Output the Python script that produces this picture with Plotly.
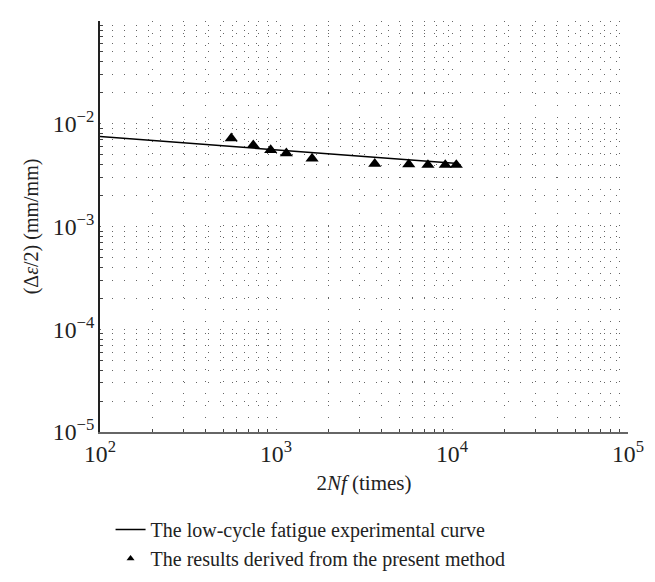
import plotly.graph_objects as go

# Low-cycle fatigue experimental curve (strain amplitude vs reversals)
curve_x = [100, 10800]
curve_y = [0.0075, 0.0041]

# Results derived from the present method
pts_x = [557, 743, 933, 1145, 1603, 3640, 5680, 7300, 9160, 10580]
pts_y = [0.00722, 0.00618, 0.00555, 0.00516, 0.00458, 0.00408, 0.00403, 0.00397, 0.00397, 0.00397]

curve_name = "The low-cycle fatigue experimental curve"
pts_name = "The results derived from the present method"

FONT = "Liberation Serif, DejaVu Serif, serif"

fig = go.Figure()
fig.add_trace(go.Scatter(x=curve_x, y=curve_y, mode="lines", name=curve_name,
                         line=dict(color="black", width=1.5)))
fig.add_trace(go.Scatter(x=pts_x, y=pts_y, mode="markers", name=pts_name, showlegend=False,
                         marker=dict(symbol="triangle-up", size=11.5, color="black")))
# legend-only entry with a small marker
fig.add_trace(go.Scatter(x=[None], y=[None], mode="markers", name=pts_name,
                         marker=dict(symbol="triangle-up", size=7, color="black")))

grid_kw = dict(showgrid=True, gridcolor="#666", gridwidth=1, griddash="1px,11px")
minor_kw = dict(dtick="D1", showgrid=True, gridcolor="#666", gridwidth=1, griddash="1px,11px",
                ticks="inside", ticklen=3, tickcolor="#444")

fig.update_xaxes(type="log", range=[2, 5], dtick=1, exponentformat="power",
                 showline=True, linecolor="#666", linewidth=2, zeroline=False,
                 ticks="", tickfont=dict(family=FONT, size=19, color="#222"),
                 title=dict(text="2<i>Nf</i> (times)", font=dict(family=FONT, size=21, color="#222"), standoff=10),
                 minor=minor_kw, **grid_kw)
fig.update_yaxes(type="log", range=[-5, -1], dtick=1, exponentformat="power",
                 showline=True, linecolor="#222", linewidth=2, zeroline=False,
                 ticks="", tickfont=dict(family=FONT, size=19, color="#222"),
                 title=dict(text="(Δ<i>ε</i>/2) (mm/mm)", font=dict(family=FONT, size=20, color="#222"), standoff=9),
                 minor=minor_kw, **grid_kw)

fig.update_layout(
    width=655, height=582,
    margin=dict(l=92, r=35, t=13, b=138),
    plot_bgcolor="white", paper_bgcolor="white",
    font=dict(family=FONT, color="#222"),
    legend=dict(x=0.02, y=-0.19, xanchor="left", yanchor="top", orientation="v",
                font=dict(family=FONT, size=20, color="#222"), bgcolor="rgba(0,0,0,0)",
                tracegroupgap=0),
)

fig.write_html("out.html")
